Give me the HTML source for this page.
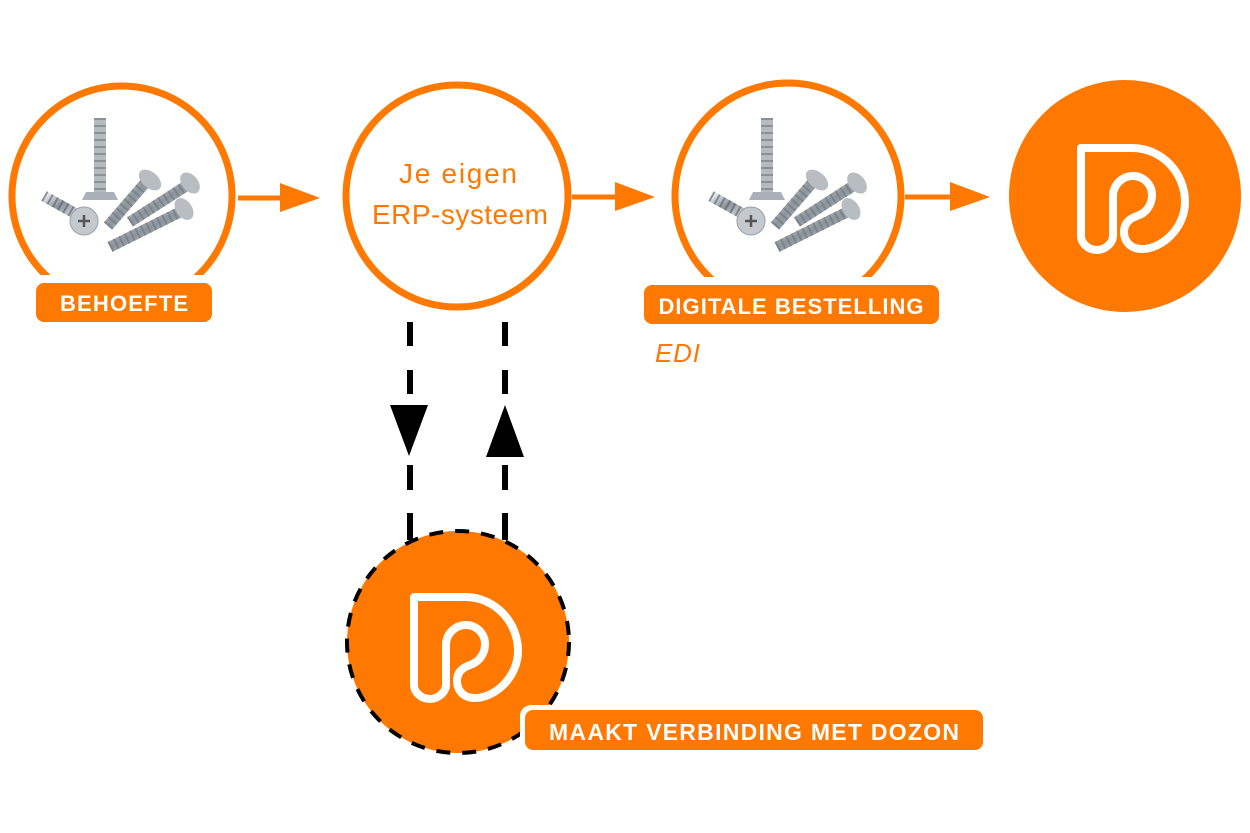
<!DOCTYPE html>
<html><head><meta charset="utf-8"><style>html,body{margin:0;padding:0;background:#fff}svg{display:block}</style></head>
<body>
<svg width="1250" height="833" viewBox="0 0 1250 833" xmlns="http://www.w3.org/2000/svg">
<defs>
<linearGradient id="m" x1="0" y1="0" x2="1" y2="1"><stop offset="0" stop-color="#e8ebee"/><stop offset="0.5" stop-color="#8c949c"/><stop offset="1" stop-color="#d0d5da"/></linearGradient>
<g id="screws">
  <line x1="100" y1="118" x2="100" y2="192" stroke="#b4bac0" stroke-width="12"/>
  <line x1="100" y1="118" x2="100" y2="192" stroke="#6f767d" stroke-width="12" stroke-dasharray="2 5" opacity="0.6"/>
  <path d="M86,192 L114,192 L118,200 L82,200 Z" fill="#aab0b6"/>
  <line x1="44" y1="196" x2="76" y2="214" stroke="url(#m)" stroke-width="11"/>
  <line x1="44" y1="196" x2="76" y2="214" stroke="#555b61" stroke-width="11" stroke-dasharray="2 4" opacity="0.6"/>
  <circle cx="84" cy="221" r="14" fill="#c4c9ce" stroke="#9aa0a6"/>
  <path d="M78,221 H90 M84,215 V227" stroke="#555" stroke-width="2.5"/>
  <line x1="108" y1="226" x2="146" y2="182" stroke="url(#m)" stroke-width="11"/>
  <line x1="108" y1="226" x2="146" y2="182" stroke="#6f767d" stroke-width="11" stroke-dasharray="2 4" opacity="0.6"/>
  <ellipse cx="150" cy="180" rx="13" ry="8" transform="rotate(40 150 180)" fill="#b8bdc2"/>
  <line x1="130" y1="222" x2="186" y2="186" stroke="url(#m)" stroke-width="11"/>
  <line x1="130" y1="222" x2="186" y2="186" stroke="#6f767d" stroke-width="11" stroke-dasharray="2 4" opacity="0.6"/>
  <ellipse cx="190" cy="183" rx="12" ry="8" transform="rotate(50 190 183)" fill="#b8bdc2"/>
  <line x1="110" y1="247" x2="180" y2="212" stroke="url(#m)" stroke-width="11"/>
  <line x1="110" y1="247" x2="180" y2="212" stroke="#6f767d" stroke-width="11" stroke-dasharray="2 4" opacity="0.6"/>
  <ellipse cx="184" cy="209" rx="12" ry="8" transform="rotate(55 184 209)" fill="#b8bdc2"/>
</g>
<path id="logo" d="M1081,148 L1132,148 C1162,148 1185,173 1185,202 C1185,228 1162,249 1142,249 C1130,249 1124,241 1124,232 C1124,222 1131,218 1137,216 C1146,213 1152,205 1152,195 C1152,184 1143,176 1133,176 C1122,176 1113,185 1113,196 L1113,236 C1113,243 1105,250 1097,250 C1088,250 1081,243 1081,236 Z" fill="none" stroke="#fff" stroke-width="8" stroke-linejoin="round"/>
</defs>

<circle cx="122" cy="196" r="110" fill="#fff" stroke="#ff7800" stroke-width="7"/>
<use href="#screws"/>
<circle cx="457" cy="196" r="111" fill="#fff" stroke="#ff7800" stroke-width="7"/>
<text x="458" y="183" font-family="Liberation Sans, sans-serif" font-size="28" fill="#ff7800" text-anchor="middle" textLength="118">Je eigen</text>
<text x="460" y="224" font-family="Liberation Sans, sans-serif" font-size="28" fill="#ff7800" text-anchor="middle" textLength="176">ERP-systeem</text>
<circle cx="788" cy="196" r="113" fill="#fff" stroke="#ff7800" stroke-width="7"/>
<use href="#screws" transform="translate(667,0)"/>
<circle cx="1125" cy="196" r="116" fill="#ff7800"/>
<use href="#logo"/>

<g fill="#ff7800" stroke="#ff7800">
<line x1="238" y1="198" x2="285" y2="198" stroke-width="5"/>
<path d="M280,183 L320,198 L280,212 Z" stroke="none"/>
<line x1="572" y1="197" x2="620" y2="197" stroke-width="5"/>
<path d="M615,182 L655,197 L615,211 Z" stroke="none"/>
<line x1="905" y1="197" x2="955" y2="197" stroke-width="5"/>
<path d="M950,182 L990,197 L950,211 Z" stroke="none"/>
</g>

<rect x="28" y="275" width="192" height="55" rx="12" fill="#fff"/>
<rect x="36" y="283" width="176" height="39" rx="8" fill="#ff7800"/>
<text x="124" y="311" font-family="Liberation Sans, sans-serif" font-weight="bold" font-size="22" fill="#fff" text-anchor="middle" textLength="128">BEHOEFTE</text>
<rect x="636" y="277" width="311" height="55" rx="12" fill="#fff"/>
<rect x="644" y="285" width="295" height="39" rx="8" fill="#ff7800"/>
<text x="791" y="314" font-family="Liberation Sans, sans-serif" font-weight="bold" font-size="22" fill="#fff" text-anchor="middle" textLength="265">DIGITALE BESTELLING</text>
<text x="655" y="362" font-family="Liberation Sans, sans-serif" font-style="italic" font-size="26" fill="#ff7800" textLength="45">EDI</text>

<g stroke="#000" stroke-width="6">
<line x1="410" y1="322" x2="410" y2="346"/><line x1="410" y1="370" x2="410" y2="394"/>
<line x1="410" y1="465" x2="410" y2="490"/><line x1="410" y1="513" x2="410" y2="540"/>
<line x1="505" y1="322" x2="505" y2="346"/><line x1="505" y1="370" x2="505" y2="394"/>
<line x1="505" y1="465" x2="505" y2="490"/><line x1="505" y1="513" x2="505" y2="540"/>
</g>
<path d="M390,405 L428,405 L409,456 Z" fill="#000"/>
<path d="M505,405 L524,457 L486,457 Z" fill="#000"/>

<circle cx="458" cy="642" r="111" fill="#ff7800" stroke="#000" stroke-width="4" stroke-dasharray="14 12"/>
<use href="#logo" transform="translate(-667,449)"/>
<rect x="520" y="705" width="468" height="50" rx="11" fill="#fff"/>
<rect x="525" y="710" width="458" height="40" rx="8" fill="#ff7800"/>
<text x="754" y="740" font-family="Liberation Sans, sans-serif" font-weight="bold" font-size="23" fill="#fff" text-anchor="middle" textLength="410">MAAKT VERBINDING MET DOZON</text>
</svg>
</body></html>
